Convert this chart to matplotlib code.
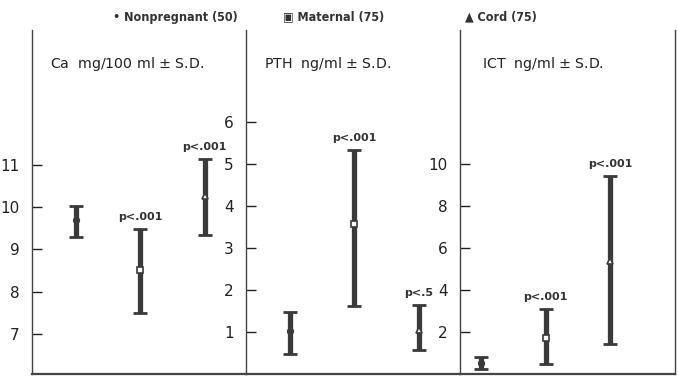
import matplotlib
matplotlib.use("Agg")
import matplotlib.pyplot as plt

plt.rcParams["font.family"] = ["DejaVu Sans"]

groups = ["Nonpregnant (50)", "Maternal (75)", "Cord (75)"]
markers = ["o", "s", "^"]
xpos = [1, 2, 3]

# Ca mg/100 ml
ca_mean = [9.69, 8.52, 10.26]
ca_low = [9.30, 7.49, 9.35]
ca_high = [10.03, 9.49, 11.15]
ca_p = ["", "p<.001", "p<.001"]

# PTH ng/ml
pth_mean = [1.03, 3.56, 1.05]
pth_low = [0.48, 1.61, 0.56]
pth_high = [1.47, 5.34, 1.65]
pth_p = ["", "p<.001", "p<.5"]

# ICT ng/ml
ict_mean = [0.52, 1.70, 5.40]
ict_low = [0.22, 0.49, 1.45]
ict_high = [0.81, 3.08, 9.44]
ict_p = ["", "p<.001", "p<.001"]

panels = [
    ("Ca  mg/100 ml $\\pm$ S.D.", ca_mean, ca_low, ca_high, ca_p,
     (6.05, 14.2), [7, 8, 9, 10, 11], (0.316, 3.64)),
    ("PTH  ng/ml $\\pm$ S.D.", pth_mean, pth_low, pth_high, pth_p,
     (0, 8.19), [1, 2, 3, 4, 5, 6], (0.316, 3.64)),
    ("ICT  ng/ml $\\pm$ S.D.", ict_mean, ict_low, ict_high, ict_p,
     (0, 16.4), [2, 4, 6, 8, 10], (0.674, 4.0)),
]

W, H = 678, 376
fig = plt.figure(figsize=(W / 100, H / 100), dpi=100)
ink = "#3a3a3a"

lefts = [32, 246, 460]
rights = [246, 460, 675]
top_px, bot_px = 30, 374

for i, (title, mean, low, high, plabs, ylim, yt, xl) in enumerate(panels):
    ax = fig.add_axes([lefts[i] / W, (H - bot_px) / H,
                       (rights[i] - lefts[i]) / W, (bot_px - top_px) / H])
    ax.set_xlim(*xl)
    ax.set_ylim(*ylim)
    ax.set_yticks(yt)
    ax.set_xticks([])
    ax.tick_params(axis="y", direction="in", length=7, width=1, pad=9,
                   labelsize=11, colors="#222222")
    ax.spines["top"].set_visible(False)
    ax.spines["right"].set_visible(i == 2)
    for s in ax.spines.values():
        s.set_color("#444444")
        s.set_linewidth(1.0)
    ax.spines["bottom"].set_linewidth(1.6)

    for x, m, lo, hi, mk, pl in zip(xpos, mean, low, high, markers, plabs):
        ax.errorbar([x], [m], yerr=[[m - lo], [hi - m]], fmt="none",
                    ecolor=ink, elinewidth=3.8, capsize=5, capthick=2)
        fc = ink if mk == "o" else "white"
        ax.plot([x], [m], marker=mk, ms=4, mfc=fc, mec=ink, mew=1.2,
                linestyle="none", zorder=5)
        if pl:
            ax.annotate(pl, (x, hi), xytext=(0, 5), textcoords="offset points",
                        ha="center", va="bottom", fontsize=8,
                        fontweight="bold", color="#333333")

    ax.text(0.085 if i < 2 else 0.1, 0.9, title, transform=ax.transAxes,
            ha="left", va="center", fontsize=10.2, color="#222222")

# legend row at top
legend_x = [113, 283, 465]
legend_mk = ["\u2022", "\u25a3", "\u25b2"]
for lx, mk, g in zip(legend_x, legend_mk, groups):
    fig.text(lx / W, 1 - 17 / H, mk + " " + g, ha="left", va="center",
             fontsize=9, fontweight="bold", fontstretch="condensed",
             color="#333333")

fig.savefig("out.png", dpi=100)
